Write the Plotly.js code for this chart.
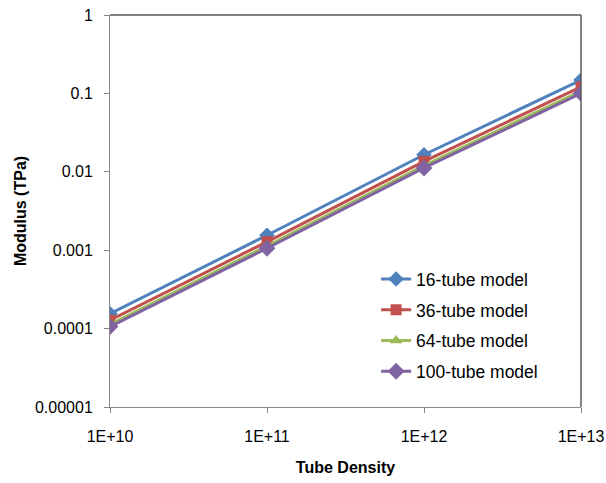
<!DOCTYPE html>
<html>
<head>
<meta charset="utf-8">
<script src="https://cdn.plot.ly/plotly-3.0.1.min.js"></script>
<style>html,body{margin:0;padding:0;background:#fff;}#chart{width:606px;height:483px;}</style>
</head>
<body>
<div id="chart"></div>
<script>
var tubeDensity = [1e10, 1e11, 1e12, 1e13];
var model16 = [0.000155, 0.00155, 0.0165, 0.148];
var model36 = [0.000128, 0.00128, 0.0136, 0.121];
var model64 = [0.000113, 0.00113, 0.0120, 0.107];
var model100 = [0.000106, 0.00106, 0.0112, 0.100];
var seriesNames = ['16-tube model', '36-tube model', '64-tube model', '100-tube model'];
var yTickVals = [0.00001, 0.0001, 0.001, 0.01, 0.1, 1];
var yTickText = ['0.00001', '0.0001', '0.001', '0.01', '0.1', '1'];
var xTickVals = [1e10, 1e11, 1e12, 1e13];
var xTickText = ['1E+10', '1E+11', '1E+12', '1E+13'];

var colors = ['#4F81BD', '#C0504D', '#9BBB59', '#8064A2'];
var symbols = ['diamond', 'square', 'triangle-up', 'diamond'];
var sizes = [12, 11, 11, 13];
var data = [model16, model36, model64, model100].map(function (ys, i) {
  return {
    x: tubeDensity, y: ys, type: 'scatter', mode: 'lines+markers',
    name: seriesNames[i], legendgroup: 'g' + i,
    line: {color: colors[i], width: 3},
    marker: {symbol: symbols[i], size: sizes[i], color: colors[i]}
  };
});

var layout = {
  width: 606, height: 483,
  margin: {l: 110, r: 25, t: 15, b: 76},
  paper_bgcolor: '#fff', plot_bgcolor: '#fff',
  font: {family: 'Liberation Sans, Arial, sans-serif', size: 16, color: '#000'},
  showlegend: true,
  legend: {x: 0.565, y: 0.372, xanchor: 'left', yanchor: 'top', traceorder: 'grouped',
           tracegroupgap: 5, font: {size: 17.5}, bgcolor: 'rgba(0,0,0,0)'},
  xaxis: {
    type: 'log', range: [10, 13], tickvals: xTickVals, ticktext: xTickText,
    showgrid: false, zeroline: false, showline: true, linecolor: '#868686', linewidth: 1,
    mirror: false, ticks: 'outside', ticklen: 5, tickcolor: '#868686', ticklabelstandoff: 10,
    title: {text: '<b>Tube Density</b>', font: {size: 16}, standoff: 17}
  },
  yaxis: {
    type: 'log', range: [-5, 0], tickvals: yTickVals, ticktext: yTickText,
    showgrid: false, zeroline: false, showline: true, linecolor: '#868686', linewidth: 1,
    ticks: 'outside', ticklen: 5, tickcolor: '#868686', ticklabelstandoff: 8,
    title: {text: '<b>Modulus (TPa)</b>', font: {size: 16}, standoff: 4}
  },
  shapes: [
    {type: 'line', xref: 'paper', yref: 'paper', x0: 0, x1: 1, y0: 1, y1: 1, line: {color: '#595959', width: 1.5}},
    {type: 'line', xref: 'paper', yref: 'paper', x0: 1, x1: 1, y0: 0, y1: 1, line: {color: '#595959', width: 1.5}}
  ]
};

Plotly.newPlot('chart', data, layout, {displayModeBar: false, staticPlot: true});
</script>
</body>
</html>
